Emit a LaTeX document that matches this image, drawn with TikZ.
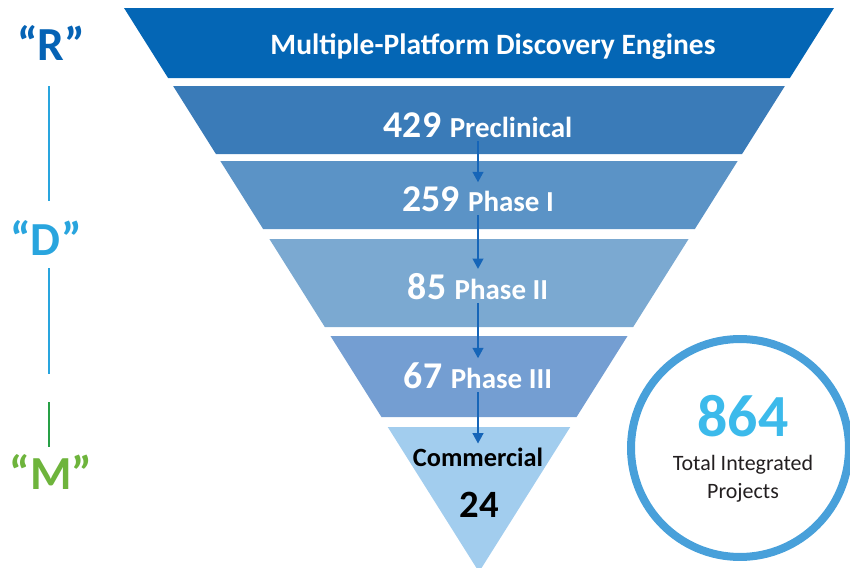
\documentclass[tikz,border=0pt]{standalone}
\usepackage{fontspec}
\setmainfont{Carlito}
\usetikzlibrary{arrows.meta}

\definecolor{bandA}{RGB}{4,102,181}
\definecolor{bandB}{RGB}{58,123,184}
\definecolor{bandC}{RGB}{91,147,198}
\definecolor{bandD}{RGB}{123,169,209}
\definecolor{bandE}{RGB}{116,158,210}
\definecolor{bandF}{RGB}{162,205,238}
\definecolor{flowblue}{RGB}{22,101,184}
\definecolor{rblue}{RGB}{5,99,181}
\definecolor{dblue}{RGB}{41,165,222}
\definecolor{mgreen}{RGB}{110,180,60}
\definecolor{lgreen}{RGB}{40,160,70}
\definecolor{ringblue}{RGB}{72,160,218}
\definecolor{totcyan}{RGB}{60,186,235}
\definecolor{txtdark}{RGB}{35,31,32}

\newcommand{\stagetext}[2]{{\fontsize{21.5}{25}\selectfont #1 }{\fontsize{16.5}{19}\selectfont #2}}

\begin{document}
\begin{tikzpicture}[x=0.02cm,y=-0.02cm,
	stage/.style={text=white,font=\bfseries,anchor=base,inner sep=2pt},
	flow/.style={flowblue,line width=0.05cm,-{Triangle[width=6pt,length=6pt]}},
	rdm/.style={font=\bfseries\fontsize{27}{30}\selectfont,inner sep=0pt}]
			\useasboundingbox (0,0) rectangle (850,568);
			%funnel, one triangle cut in bands
			\foreach \t/\b/\col in {8/78/bandA,86/154/bandB,161/229/bandC,239/327/bandD,336/417/bandE,427/572/bandF}
				\fill[\col] ({479-0.6294*(572-\t)},\t) -- ({479+0.6294*(572-\t)},\t) -- ({479+0.6294*(572-\b)},\b) -- ({479-0.6294*(572-\b)},\b) -- cycle;

			\node[stage,anchor=center,font=\bfseries\fontsize{16.8}{20}\selectfont] (engines) at (493,47) {Multiple-Platform Discovery Engines};

			\node[stage] (pre) at (478,137) {\stagetext{429}{Preclinical}};
			\node[stage] (ph1) at (478,211) {\stagetext{259}{Phase I}};
			\node[stage] (ph2) at (478,299) {\stagetext{85}{Phase II}};
			\node[stage] (ph3) at (478,388) {\stagetext{67}{Phase III}};
			\node[stage,text=black] (com) at (478,466) {\fontsize{15}{18}\selectfont Commercial};
			\node[stage,text=black] (n24) at (479,517) {\fontsize{22}{26}\selectfont 24};

			\draw[flow] (pre.south) -- (ph1.north);
			\draw[flow] (ph1.south) -- (ph2.north);
			\draw[flow] (ph2.south) -- (ph3.north);
			\draw[flow] (ph3.south) -- (com.north);

			%total
			\node[circle,draw=ringblue,line width=0.16cm,minimum size=4.36cm,inner sep=0pt] (ring) at (740,448) {};
			\node[text=totcyan,font=\bfseries\fontsize{34}{40}\selectfont] (n864) at (743,416) {864};
			\node[text=txtdark,font=\fontsize{12.5}{16}\selectfont,align=center] (tip) at (743,479) {Total Integrated\\Projects};

			%R - D - M
			\node[rdm,text=rblue] (R) at (51,43) {“R”};
			\node[rdm,text=dblue] (D) at (46,238) {“D”};
			\node[rdm,text=mgreen] (M) at (51,472) {“M”};
			\draw[dblue,line width=0.04cm,shorten <=0.51cm,shorten >=0.39cm] (R.south -| 49,0) -- (D.north -| 49,0);
			\draw[dblue,line width=0.04cm,shorten <=0.25cm,shorten >=1.61cm] (D.south -| 49,0) -- (M.north -| 49,0);
			\draw[lgreen,line width=0.04cm,shorten <=2.93cm,shorten >=0.15cm] (D.south -| 49,0) -- (M.north -| 49,0);
		\end{tikzpicture}
\end{document}
